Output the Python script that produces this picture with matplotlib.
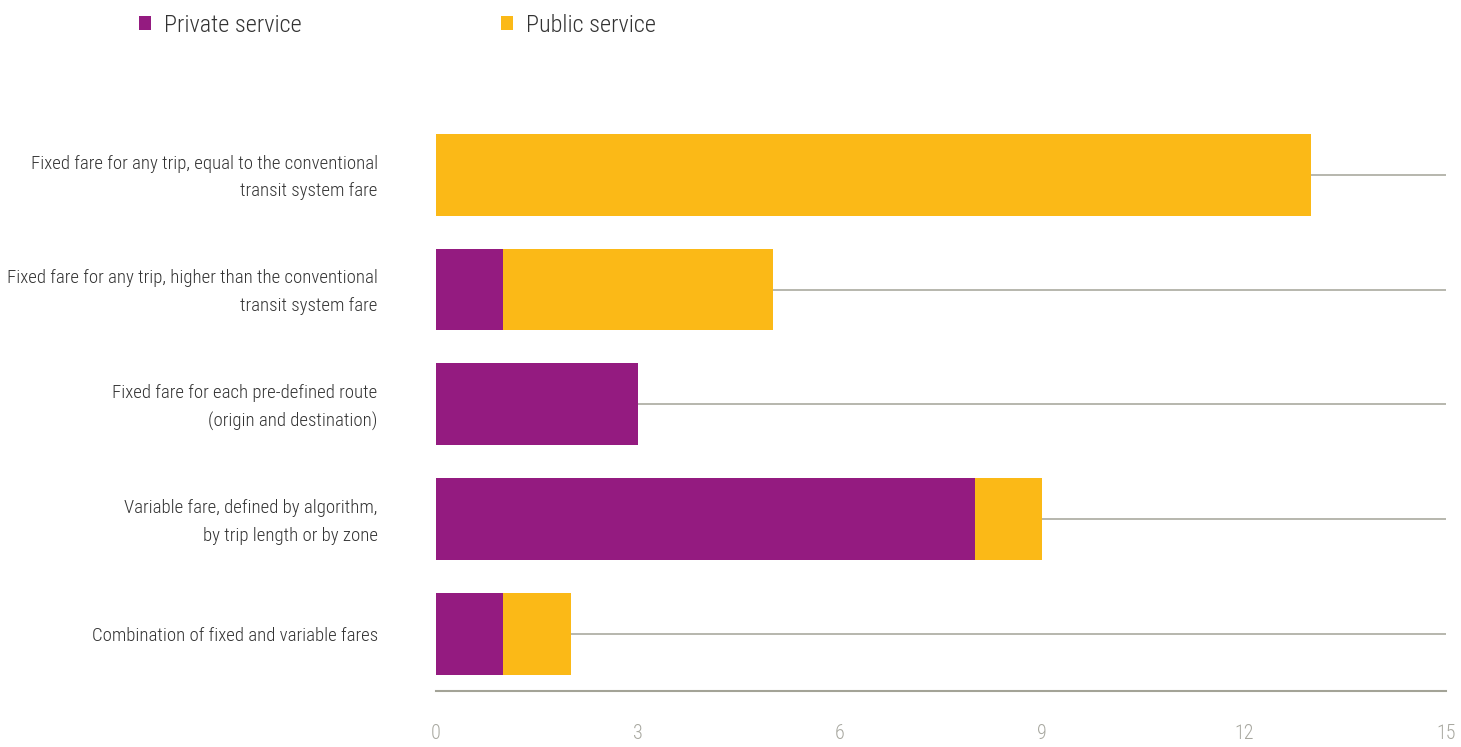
import matplotlib.pyplot as plt
from matplotlib import font_manager
from matplotlib.transforms import ScaledTranslation

# Data
categories = [
    "Fixed fare for any trip, equal to the conventional\ntransit system fare",
    "Fixed fare for any trip, higher than the conventional\ntransit system fare",
    "Fixed fare for each pre-defined route\n(origin and destination)",
    "Variable fare, defined by algorithm,\nby trip length or by zone",
    "Combination of fixed and variable fares",
]
private_service = [0, 1, 3, 8, 1]
public_service = [13, 4, 0, 1, 1]
x_ticks = [0, 3, 6, 9, 12, 15]

PURPLE = "#941B80"
YELLOW = "#FBB917"
GRID = "#A3A397"
TEXT = "#333333"
TICK = "#A8A8A0"

available = {f.name for f in font_manager.fontManager.ttflist}
family = [f for f in ["Roboto Condensed", "Liberation Sans Narrow", "Roboto", "DejaVu Sans"] if f in available]
plt.rcParams["font.family"] = family
plt.rcParams["font.weight"] = "light"

fig = plt.figure(figsize=(14.61, 7.47), dpi=100)
W, H = 1461, 747
left, right = 436 / W, 1446 / W
top, bottom = 117.5 / H, 691 / H
ax = fig.add_axes([left, 1 - bottom, right - left, bottom - top])

y = list(range(len(categories)))
bar_h = 82 / 115
ax.hlines(y, 0, 15, color=GRID, lw=1.1, zorder=0)
b1 = ax.barh(y, private_service, height=bar_h, color=PURPLE, label="Private service", zorder=2)
b2 = ax.barh(y, public_service, left=private_service, height=bar_h, color=YELLOW,
             label="Public service", zorder=2)

ax.set_xlim(0, 15)
ax.set_ylim(len(categories) - 0.5, -0.5)
ax.set_yticks(y)
ax.set_yticklabels(categories, fontsize=13.5, color=TEXT, linespacing=1.7)
ax.set_xticks(x_ticks)
ax.set_xticklabels([str(t) for t in x_ticks], fontsize=14.5, color=TICK)
ax.tick_params(axis="y", length=0, pad=42)
ax.tick_params(axis="x", length=0, pad=24)
for s in ["top", "right", "left"]:
    ax.spines[s].set_visible(False)
ax.spines["bottom"].set_color(GRID)
ax.spines["bottom"].set_linewidth(1.5)

# nudge the two-line category labels up slightly so they sit centred on the bars
shift = ScaledTranslation(0, 3 / 72, fig.dpi_scale_trans)
for lbl in ax.get_yticklabels():
    if "\n" in lbl.get_text():
        lbl.set_transform(lbl.get_transform() + shift)

fig.legend(handles=[b1, b2], loc="upper left", bbox_to_anchor=(117 / W, 1 + 8 / H),
           ncol=2, frameon=False, fontsize=17.5, handlelength=0.48, handleheight=0.48,
           handletextpad=0.55, columnspacing=8.2, labelcolor=TEXT)

fig.savefig("out.png", dpi=100)
